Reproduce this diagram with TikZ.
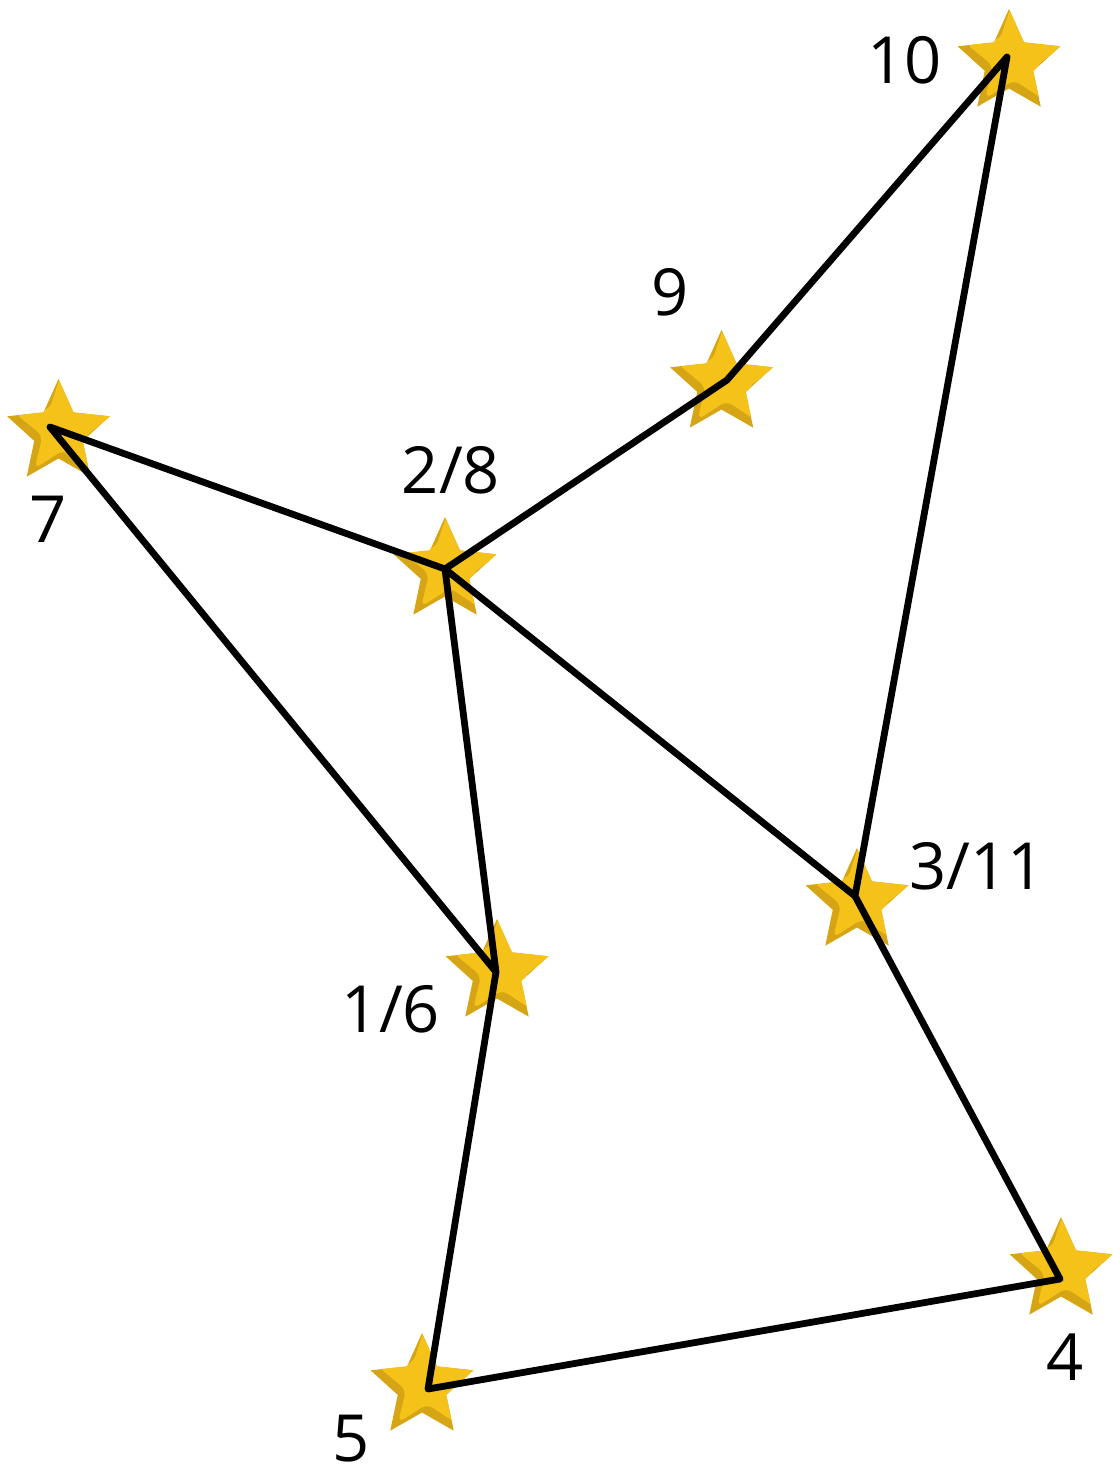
\documentclass[tikz,border=0pt]{standalone}
\usepackage{fontspec}
\setmainfont{Open Sans}
\definecolor{stardark}{HTML}{D6A515}
\definecolor{starlight}{HTML}{F5C219}
\tikzset{
  lbl/.style={anchor=base, inner sep=0pt, font=\fontsize{65}{65}\selectfont, text=black},
  route/.style={line width=6.8pt, line join=round, line cap=round, black},
  gstar/.pic={
    \path[fill=stardark] (270:54) -- (306:25.5) -- (342:54) -- (18:25.5) -- (54:54) -- (90:25.5)
      -- (126:54) -- (162:25.5) -- (198:54) -- (234:25.5) -- cycle;
    \begin{scope}
      \clip (270:54) -- (306:25.5) -- (342:54) -- (18:25.5) -- (54:54) -- (90:25.5)
      -- (126:54) -- (162:25.5) -- (198:54) -- (234:25.5) -- cycle;
      \begin{scope}[shift={(5,-4)}]
        \path[fill=starlight, rounded corners=7pt] (270:62) -- (306:25) -- (342:58) -- (18:23) -- (54:50) -- (90:21)
          -- (126:49) -- (162:22) -- (198:51) -- (234:24) -- cycle;
      \end{scope}
    \end{scope}
  }
}
\begin{document}
\begin{tikzpicture}[x=1pt, y=-1pt]
\useasboundingbox (0,0) rectangle (1112,1472);
% stars
\pic at (1009,63) {gstar};
\pic at (721.5,384) {gstar};
\pic at (445,571) {gstar};
\pic at (58.5,433) {gstar};
\pic at (497,973) {gstar};
\pic at (857,902) {gstar};
\pic at (1061,1271) {gstar};
\pic at (422,1387) {gstar};
% vertices
\coordinate (p10) at (1007,57);
\coordinate (p9) at (727,380);
\coordinate (p28) at (445,569);
\coordinate (p7) at (50,427);
\coordinate (p16) at (496,972);
\coordinate (p311) at (855,896);
\coordinate (p4) at (1060,1279);
\coordinate (p5) at (428,1389);
\draw[route] (p16) -- (p28) -- (p311) -- (p4) -- (p5) -- (p16) -- (p7) -- (p28) -- (p9) -- (p10) -- (p311);
% labels
\node[lbl] (l10) at (904.5,83) {10};
\node[lbl] (l9) at (670,315) {9};
\node[lbl] (l28) at (451,493) {2/8};
\node[lbl] (l7) at (48,542) {7};
\node[lbl] (l311) at (977,889) {3/11};
\node[lbl] (l16) at (391,1032) {1/6};
\node[lbl] (l4) at (1065,1380) {4};
\node[lbl] (l5) at (351,1461) {5};
\end{tikzpicture}
\end{document}
